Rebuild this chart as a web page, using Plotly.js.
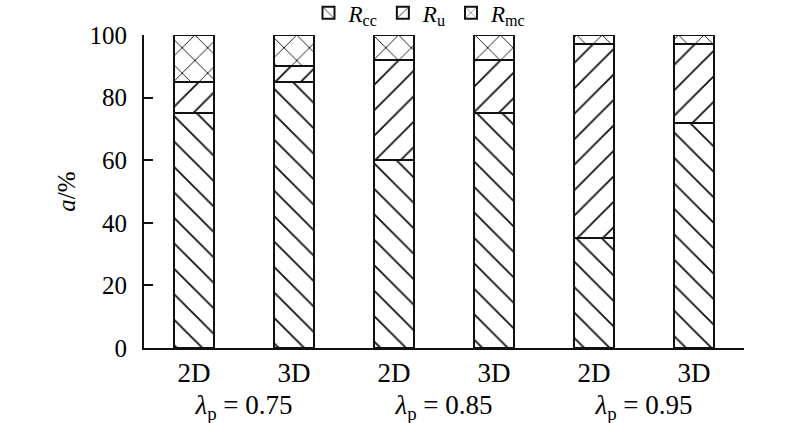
<!DOCTYPE html>
<html>
<head>
<meta charset="utf-8">
<script src="https://cdn.plot.ly/plotly-3.0.1.min.js"></script>
<style>html,body{margin:0;padding:0;background:#fff}#chart{width:800px;height:423px}</style>
</head>
<body>
<div id="chart"></div>
<script>
const groups = ['<i>λ</i><sub>p</sub> = 0.75', '<i>λ</i><sub>p</sub> = 0.75', '<i>λ</i><sub>p</sub> = 0.85', '<i>λ</i><sub>p</sub> = 0.85', '<i>λ</i><sub>p</sub> = 0.95', '<i>λ</i><sub>p</sub> = 0.95'];
const dims = ['2D', '3D', '2D', '3D', '2D', '3D'];
const Rcc = [75, 85, 60, 75, 35, 72];
const Ru = [10, 5, 32, 17, 62, 25];
const Rmc = [15, 10, 8, 8, 3, 3];
const yTicks = [0, 20, 40, 60, 80, 100];

const font = {family: '"Liberation Serif", "Times New Roman", serif', color: '#000'};

function mk(name, vals, shape) {
  return {
    type: 'bar', name: name, x: [groups, dims], y: vals,
    width: 0.4,
    marker: {color: '#fff', line: {color: '#111', width: 2},
      pattern: {shape: shape, fgcolor: '#111', bgcolor: '#fff', size: 18, solidity: 0.1}}
  };
}

const data = [
  mk('<i>R</i><sub>cc</sub>', Rcc, '\\'),
  mk('<i>R</i><sub>u</sub>', Ru, '/'),
  mk('<i>R</i><sub>mc</sub>', Rmc, 'x')
];

const layout = {
  width: 800, height: 423,
  margin: {l: 144, r: 56, t: 35, b: 75},
  barmode: 'stack',
  plot_bgcolor: '#fff', paper_bgcolor: '#fff',
  font: Object.assign({size: 23}, font),
  showlegend: true,
  legend: {orientation: 'h', xref: 'container', yref: 'container', x: 0.525, xanchor: 'center',
    y: 0.97, yanchor: 'middle',
    font: Object.assign({size: 23}, font), traceorder: 'normal', itemwidth: 30,
    bgcolor: 'rgba(0,0,0,0)'},
  xaxis: {type: 'multicategory', showline: true, linecolor: '#111', linewidth: 2,
    ticks: '', showgrid: false, showdividers: false,
    tickfont: Object.assign({size: 27}, font)},
  yaxis: {range: [0, 100], tickvals: yTicks, ticks: 'inside', ticklen: 9, tickwidth: 2,
    tickcolor: '#111', showline: true, linecolor: '#111', linewidth: 2,
    showgrid: false, zeroline: false, tickfont: Object.assign({size: 25}, font),
    ticklabelstandoff: 10,
    title: {text: '<i>a</i>/%', font: Object.assign({size: 25}, font), standoff: 7}}
};

Plotly.newPlot('chart', data, layout, {displayModeBar: false, staticPlot: true});
</script>
</body>
</html>
